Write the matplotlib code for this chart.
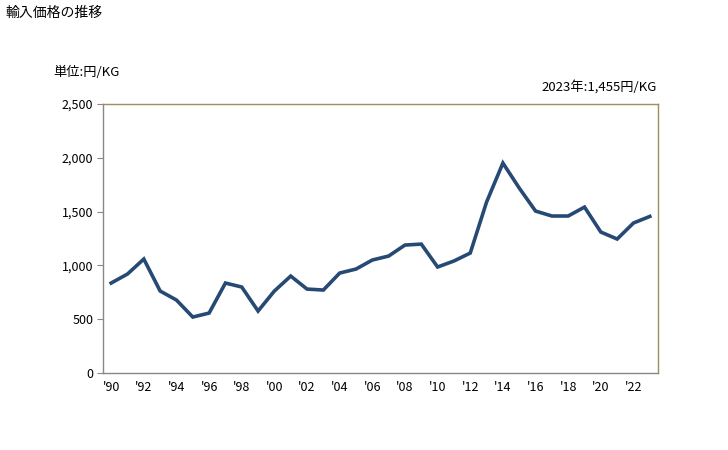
import matplotlib
matplotlib.use("Agg")
import matplotlib.pyplot as plt
from matplotlib.ticker import FuncFormatter

plt.rcParams["font.family"] = ["Noto Sans CJK JP", "DejaVu Sans"]

years = list(range(1990, 2024))
prices = [836, 920, 1059, 762, 678, 520, 557, 836, 799, 576,
          762, 901, 780, 771, 929, 966, 1050, 1087, 1189, 1198,
          985, 1041, 1115, 1589, 1951, 1719, 1505, 1459, 1459, 1542,
          1310, 1245, 1394, 1455]
y_ticks = [0, 500, 1000, 1500, 2000, 2500]
x_ticks = list(range(1990, 2023, 2))
x_labels = ["'" + str(y)[2:] for y in x_ticks]

fig = plt.figure(figsize=(7.28, 4.5), dpi=100)
ax = fig.add_axes([0.1415, 0.1711, 0.7623, 0.5978])

ax.plot(years, prices, color="#264a73", linewidth=2.6, solid_joinstyle="miter")

ax.set_xlim(1989.5, 2023.5)
ax.set_ylim(0, 2500)
ax.set_yticks(y_ticks)
ax.yaxis.set_major_formatter(FuncFormatter(lambda v, p: f"{int(v):,}"))
ax.set_xticks(x_ticks)
ax.set_xticklabels(x_labels)
ax.tick_params(axis="y", length=4, color="#888888", labelsize=9, pad=3)
ax.tick_params(axis="x", length=0, labelsize=9, pad=6)

for side in ("left", "bottom"):
    ax.spines[side].set_color("#888888")
for side in ("top", "right"):
    ax.spines[side].set_color("#9c8f5a")
for s in ax.spines.values():
    s.set_linewidth(1.0)

fig.text(0.007, 0.972, "輸入価格の推移", fontsize=10, ha="left", va="center")
fig.text(0.073, 0.838, "単位:円/KG", fontsize=9.5, ha="left", va="center")
fig.text(0.902, 0.808, "2023年:1,455円/KG", fontsize=9.5, ha="right", va="center")

fig.savefig("out.png", dpi=100)
